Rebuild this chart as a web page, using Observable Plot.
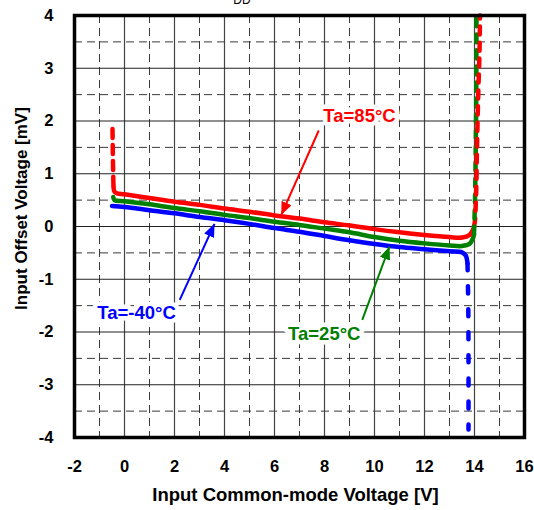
<!DOCTYPE html>
<html>
<head>
<meta charset="utf-8">
<script src="https://cdn.jsdelivr.net/npm/d3@7"></script>
<script src="https://cdn.jsdelivr.net/npm/@observablehq/plot@0.6"></script>
<style>
  html, body { margin: 0; padding: 0; background: #fff; }
  #chart { width: 534px; height: 510px; overflow: hidden; }
</style>
</head>
<body>
<div id="chart"></div>
<script>
// Axis ticks
const xTicks = [-2, 0, 2, 4, 6, 8, 10, 12, 14, 16];
const xMinor = [-1, 1, 3, 5, 7, 9, 11, 13, 15];
const yTicks = [-4, -3, -2, -1, 0, 1, 2, 3, 4];
const yMinor = [-3.5, -2.5, -1.5, -0.5, 0.5, 1.5, 2.5, 3.5];

// Ta = 85°C (red)
const redSolidX = [-0.44, -0.4, -0.3, 0, 1, 2, 3, 4, 5, 6, 7, 8, 9, 10, 11, 12, 13, 13.5, 13.8, 13.95, 14.03];
const redSolidY = [0.75, 0.66, 0.63, 0.61, 0.54, 0.47, 0.41, 0.34, 0.28, 0.21, 0.15, 0.08, 0.02, -0.05, -0.11, -0.16, -0.2, -0.21, -0.16, -0.05, 0.15];
const redDashLeftX = [-0.48, -0.47, -0.46, -0.45, -0.44];
const redDashLeftY = [1.85, 1.5, 1.2, 0.95, 0.75];
const redDashRightX = [14.03, 14.07, 14.1, 14.15, 14.2, 14.22];
const redDashRightY = [0.15, 0.7, 1.5, 2.5, 3.3, 4];

// Ta = 25°C (green)
const greenSolidX = [-0.45, -0.4, 0, 1, 2, 3, 4, 5, 6, 7, 8, 9, 10, 11, 12, 13, 13.5, 13.8, 13.93, 13.98];
const greenSolidY = [0.56, 0.5, 0.48, 0.42, 0.35, 0.29, 0.22, 0.16, 0.09, 0.03, -0.04, -0.11, -0.2, -0.27, -0.32, -0.36, -0.37, -0.33, -0.23, -0.15];
const greenDashRightX = [13.98, 14.02, 14.05, 14.07, 14.08];
const greenDashRightY = [-0.15, 0.5, 1.5, 2.5, 4];

// Ta = -40°C (blue)
const blueSolidX = [-0.5, 0, 1, 2, 3, 4, 5, 6, 7, 8, 9, 10, 11, 12, 13, 13.5, 13.65, 13.72];
const blueSolidY = [0.39, 0.37, 0.31, 0.25, 0.18, 0.12, 0.05, -0.03, -0.1, -0.18, -0.26, -0.33, -0.39, -0.43, -0.47, -0.49, -0.55, -0.7];
const blueDashX = [13.72, 13.75, 13.76, 13.76];
const blueDashY = [-0.7, -1.5, -2.5, -3.85];

// Annotations
const labelText = ["Ta=85°C", "Ta=25°C", "Ta=-40°C"];
const labelColor = ["#ff0000", "#008000", "#0000ff"];
const labelX = [9.4, 7.99, 0.48];
const labelY = [2.1, -2.03, -1.65];
const arrowX1 = [7.77, 9.51, 2.21];
const arrowY1 = [1.82, -1.77, -1.39];
const arrowX2 = [6.27, 10.6, 3.6];
const arrowY2 = [0.22, -0.38, 0.05];

const pts = (xs, ys) => xs.map((x, i) => ({x, y: ys[i]}));
const labels = labelText.map((t, i) => ({t, c: labelColor[i], x: labelX[i], y: labelY[i]}));
const arrows = labelColor.map((c, i) => ({c, x1: arrowX1[i], y1: arrowY1[i], x2: arrowX2[i], y2: arrowY2[i]}));

const gridColor = "#3a3a3a";
const W = 4.5;

const chart = Plot.plot({
  width: 534,
  height: 510,
  marginLeft: 74,
  marginRight: 10,
  marginTop: 15,
  marginBottom: 73,
  style: {fontFamily: "'Liberation Sans', Arial, sans-serif", fontSize: "16.5px", fontWeight: "bold", color: "#000", background: "#fff", overflow: "visible"},
  x: {domain: [-2, 16], ticks: xTicks, tickSize: 0, tickPadding: 23, tickFormat: d => String(d), label: null},
  y: {domain: [-4, 4], ticks: yTicks, tickSize: 0, tickPadding: 21, tickFormat: d => String(d), label: null},
  marks: [
    Plot.ruleX(xMinor, {stroke: gridColor, strokeWidth: 1, strokeDasharray: "8,5"}),
    Plot.ruleY(yMinor, {stroke: gridColor, strokeWidth: 1, strokeDasharray: "8,5"}),
    Plot.ruleX(xTicks, {stroke: "#444", strokeWidth: 1.2}),
    Plot.ruleY(yTicks, {stroke: "#222", strokeWidth: 1.2}),
    // curves
    Plot.line(pts(redDashLeftX, redDashLeftY), {x: "x", y: "y", stroke: "#ff0000", strokeWidth: W, strokeDasharray: "9,7", curve: "catmull-rom"}),
    Plot.line(pts(blueSolidX, blueSolidY), {x: "x", y: "y", stroke: "#0000ff", strokeWidth: W, curve: "catmull-rom"}),
    Plot.line(pts(blueDashX, blueDashY), {x: "x", y: "y", stroke: "#0000ff", strokeWidth: W, strokeDasharray: "7,16", curve: "catmull-rom"}),
    Plot.line(pts(greenSolidX, greenSolidY), {x: "x", y: "y", stroke: "#008000", strokeWidth: W, curve: "catmull-rom"}),
    Plot.line(pts(redSolidX, redSolidY), {x: "x", y: "y", stroke: "#ff0000", strokeWidth: W, curve: "catmull-rom"}),
    Plot.line(pts(greenDashRightX, greenDashRightY), {x: "x", y: "y", stroke: "#008000", strokeWidth: W, strokeDasharray: "8,8", curve: "catmull-rom"}),
    Plot.line(pts(redDashRightX, redDashRightY), {x: "x", y: "y", stroke: "#ff0000", strokeWidth: W, strokeDasharray: "8,8", strokeDashoffset: 8, curve: "catmull-rom"}),
    // annotations
    Plot.link(arrows, {x1: "x1", y1: "y1", x2: "x2", y2: "y2", stroke: "c", strokeWidth: 2}),
    Plot.text(labels, {x: "x", y: "y", text: "t", fill: "c", stroke: "white", strokeWidth: 9, paintOrder: "stroke", fontSize: 18.5, fontWeight: "bold"}),
    // axis titles
    Plot.text(["Input Common-mode Voltage [V]"], {frameAnchor: "bottom", dx: -4, dy: 63, fontSize: 18.5, fontWeight: "bold", fill: "#000"}),
    Plot.text(["Input Offset Voltage [mV]"], {frameAnchor: "left", textAnchor: "middle", dx: -53, dy: -18, rotate: -90, fontSize: 17, fontWeight: "bold", fill: "#000"}),
    Plot.frame({stroke: "#000", strokeWidth: 3.5})
  ]
});

document.getElementById("chart").appendChild(chart);

// filled arrowheads on the annotation links
const svg = d3.select(chart);
const defs = svg.insert("defs", ":first-child");
labelColor.forEach((c, i) => {
  defs.append("marker")
    .attr("id", "ah" + i)
    .attr("viewBox", "0 0 12 10")
    .attr("refX", 12).attr("refY", 5)
    .attr("markerUnits", "userSpaceOnUse")
    .attr("markerWidth", 13).attr("markerHeight", 11)
    .attr("orient", "auto")
    .append("path").attr("d", "M0,0L12,5L0,10Z").attr("fill", c);
});
svg.selectAll('g[aria-label="link"] path').each(function() {
  const s = d3.select(this).attr("stroke");
  const i = labelColor.indexOf(s);
  if (i >= 0) d3.select(this).attr("marker-end", `url(#ah${i})`);
});

// clipped chart title fragment at the very top
svg.append("text")
  .attr("x", 242).attr("y", 4)
  .attr("font-size", 12).attr("font-weight", "normal")
  .attr("font-family", "'Liberation Sans', Arial, sans-serif")
  .attr("fill", "#000")
  .text("DD");
</script>
</body>
</html>
